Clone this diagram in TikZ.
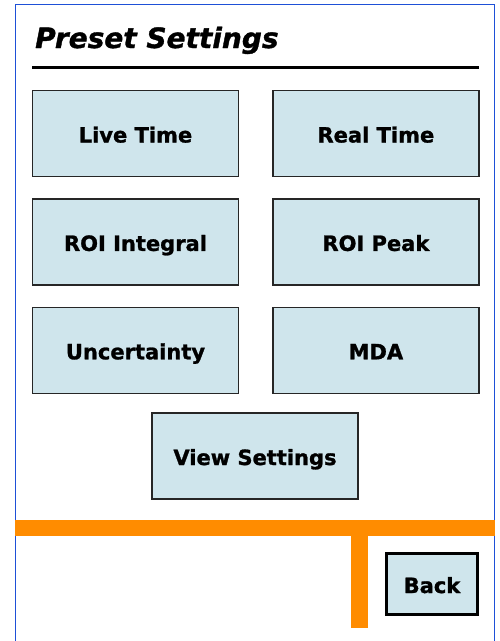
\documentclass[tikz,border=0pt]{standalone}
\usepackage{fontspec}
\setmainfont{DejaVu Sans}
\newfontfamily\heavyfont{DejaVu Sans Bold}[FakeBold=1.2]
\newfontfamily\heavyslant{DejaVu Sans Bold Oblique}[FakeBold=1.2]
\usetikzlibrary{positioning}
\definecolor{btnblue}{RGB}{207,229,236}
\definecolor{barorange}{RGB}{255,140,0}
\definecolor{frameblue}{RGB}{30,80,215}

\begin{document}
\begin{tikzpicture}[x=1pt,y=-1pt,node distance=21pt and 33pt,
    btn/.style={draw=black!85,line width=1.4pt,fill=btnblue,inner sep=0pt,
      minimum width=206pt,minimum height=86pt,text height=19pt,text depth=1pt,
      font=\fontsize{21}{25}\heavyfont},
    backbtn/.style={btn,draw=black,line width=3pt,minimum width=91pt,minimum height=61pt}]
    \useasboundingbox (0,0) rectangle (500,641);
    % frame and title
    \draw[frameblue,line width=1.5pt] (15.5,641) -- (15.5,4.5) -- (494.5,4.5) -- (494.5,641);
    \node[anchor=base west,inner sep=0pt,font=\fontsize{28}{32}\heavyslant]
      (title) at (35,48) {Preset Settings};
    \draw[line width=3pt] (32,67.5) -- (479,67.5);
    % buttons
    \node[btn]                       (live) at (135.5,133.5) {Live Time};
    \node[btn,right=of live]         (real)                  {Real Time};
    \node[btn,below=of live]         (roiint)                {ROI Integral};
    \node[btn,right=of roiint]       (roipk)                 {ROI Peak};
    \node[btn,below=of roiint]       (unc)                   {Uncertainty};
    \node[btn,right=of unc]          (mda)                   {MDA};
    \node[btn]                       (view) at (255,456)     {View Settings};
    % bottom bar
    \fill[barorange] (15,520) rectangle (495,536);
    \fill[barorange] (351,536) rectangle (368,628);
    \node[backbtn]                   (back) at (432,584)     {Back};
\end{tikzpicture}
\end{document}
